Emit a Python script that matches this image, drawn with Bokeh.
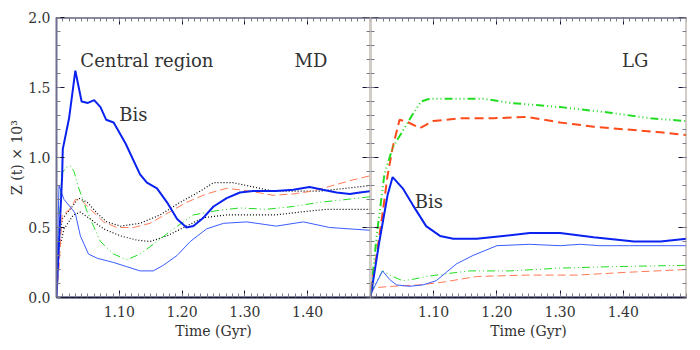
import numpy as np
from bokeh.plotting import figure
from bokeh.models import (LinearAxis, FixedTicker, Label, PrintfTickFormatter, Range1d,
                          CustomLabelingPolicy)
from bokeh.layouts import row
from bokeh.embed import file_html
from bokeh.resources import INLINE

# ---------------- data ----------------
x_ticks = [1.1, 1.2, 1.3, 1.4]
y_ticks = [0.0, 0.5, 1.0, 1.5, 2.0]

# MD panel (Central region)
md_bis_x = [1.000, 1.009, 1.010, 1.020, 1.030, 1.040, 1.050, 1.060, 1.070, 1.079, 1.091, 1.110, 1.133, 1.144,
            1.160, 1.176, 1.192, 1.207, 1.218, 1.234, 1.250, 1.271, 1.292, 1.313, 1.334, 1.349, 1.377, 1.403,
            1.424, 1.446, 1.467, 1.483, 1.500]
md_bis_y = [0.00, 0.87, 1.06, 1.28, 1.62, 1.40, 1.39, 1.41, 1.36, 1.27, 1.25, 1.10, 0.88, 0.82,
            0.78, 0.68, 0.56, 0.50, 0.51, 0.57, 0.65, 0.71, 0.75, 0.76, 0.76, 0.76, 0.77, 0.79,
            0.77, 0.75, 0.74, 0.75, 0.76]

md_thin_x = [1.000, 1.004, 1.012, 1.025, 1.030, 1.038, 1.051, 1.065, 1.091, 1.112, 1.133, 1.154, 1.170,
             1.192, 1.213, 1.239, 1.266, 1.303, 1.350, 1.393, 1.435, 1.500]
md_thin_y = [0.05, 0.80, 0.70, 0.63, 0.60, 0.44, 0.31, 0.28, 0.25, 0.22, 0.19, 0.19, 0.23,
             0.30, 0.40, 0.49, 0.53, 0.54, 0.51, 0.54, 0.50, 0.48]

md_green_x = [1.000, 1.008, 1.015, 1.022, 1.028, 1.034, 1.049, 1.070, 1.091, 1.112, 1.133, 1.160, 1.186,
              1.218, 1.255, 1.292, 1.334, 1.377, 1.419, 1.461, 1.500]
md_green_y = [0.05, 0.88, 0.93, 0.94, 0.90, 0.80, 0.61, 0.40, 0.31, 0.27, 0.31, 0.40, 0.49,
              0.59, 0.62, 0.64, 0.63, 0.65, 0.68, 0.70, 0.72]

md_orange_x = [1.000, 1.004, 1.009, 1.022, 1.030, 1.041, 1.054, 1.075, 1.096, 1.123, 1.149, 1.176, 1.207,
               1.239, 1.271, 1.308, 1.345, 1.377, 1.408, 1.440, 1.472, 1.500]
md_orange_y = [0.02, 0.21, 0.59, 0.63, 0.70, 0.69, 0.63, 0.54, 0.50, 0.50, 0.53, 0.60, 0.68,
               0.74, 0.78, 0.76, 0.73, 0.74, 0.76, 0.80, 0.84, 0.87]

md_dot1_x = [1.002, 1.009, 1.025, 1.035, 1.049, 1.065, 1.080, 1.102, 1.133, 1.165, 1.197, 1.229, 1.250,
             1.281, 1.313, 1.345, 1.377, 1.419, 1.461, 1.500]
md_dot1_y = [0.35, 0.56, 0.65, 0.71, 0.68, 0.60, 0.54, 0.51, 0.53, 0.59, 0.68, 0.76, 0.82,
             0.82, 0.79, 0.76, 0.76, 0.76, 0.78, 0.80]

md_dot2_x = [1.002, 1.012, 1.027, 1.038, 1.054, 1.075, 1.102, 1.128, 1.149, 1.176, 1.207, 1.234, 1.271,
             1.313, 1.350, 1.387, 1.430, 1.500]
md_dot2_y = [0.30, 0.49, 0.59, 0.61, 0.56, 0.49, 0.44, 0.41, 0.40, 0.44, 0.51, 0.57, 0.59,
             0.59, 0.59, 0.61, 0.63, 0.63]

# LG panel
lg_bis_x = [1.000, 1.014, 1.027, 1.035, 1.051, 1.067, 1.088, 1.110, 1.131, 1.168, 1.210, 1.252, 1.300,
            1.353, 1.417, 1.459, 1.500]
lg_bis_y = [0.00, 0.40, 0.73, 0.86, 0.78, 0.66, 0.51, 0.44, 0.42, 0.42, 0.44, 0.46, 0.46,
            0.43, 0.40, 0.40, 0.42]

lg_thin_x = [1.000, 1.019, 1.030, 1.041, 1.062, 1.083, 1.104, 1.120, 1.136, 1.162, 1.200, 1.252, 1.300,
             1.332, 1.363, 1.410, 1.500]
lg_thin_y = [0.02, 0.19, 0.13, 0.09, 0.08, 0.09, 0.12, 0.18, 0.24, 0.30, 0.37, 0.38, 0.37,
             0.38, 0.37, 0.37, 0.37]

lg_green_hi_x = [1.000, 1.010, 1.022, 1.035, 1.051, 1.067, 1.080, 1.094, 1.136, 1.178, 1.221, 1.300,
                 1.379, 1.443, 1.500]
lg_green_hi_y = [0.00, 0.45, 0.88, 1.07, 1.19, 1.31, 1.40, 1.42, 1.42, 1.42, 1.39, 1.36,
                 1.32, 1.28, 1.26]

lg_orange_hi_x = [1.000, 1.009, 1.020, 1.027, 1.035, 1.046, 1.060, 1.078, 1.099, 1.141, 1.194, 1.247,
                  1.300, 1.353, 1.406, 1.459, 1.500]
lg_orange_hi_y = [0.05, 0.28, 0.63, 0.87, 1.07, 1.27, 1.25, 1.21, 1.26, 1.28, 1.28, 1.29,
                  1.25, 1.22, 1.20, 1.18, 1.16]

lg_green_lo_x = [1.000, 1.019, 1.035, 1.051, 1.067, 1.088, 1.120, 1.157, 1.221, 1.300, 1.379, 1.500]
lg_green_lo_y = [0.03, 0.19, 0.15, 0.12, 0.13, 0.15, 0.17, 0.19, 0.19, 0.21, 0.22, 0.23]

lg_orange_lo_x = [1.000, 1.006, 1.035, 1.078, 1.115, 1.168, 1.247, 1.327, 1.406, 1.500]
lg_orange_lo_y = [0.02, 0.07, 0.08, 0.09, 0.11, 0.15, 0.16, 0.16, 0.18, 0.20]

# ---------------- styling ----------------
FONT = "DejaVu Serif"
TXT = "#333333"
DARK = "#14143a"
TAN = "#a59a8e"
BLUE_THICK = "#0a22f0"
BLUE_THIN = "#3a5cff"
GREEN = "#22dd22"
ORANGE = "#ff4a1a"
ORANGE_LIGHT = "#ff7a55"

X_LO, X_HI = 1.0, 1.5
Y_LO, Y_HI = 0.0, 2.0
x_minor = list(np.round(np.arange(X_LO, X_HI + 1e-4, 0.01), 3))
y_minor = list(np.round(np.arange(Y_LO, Y_HI + 1e-4, 0.1), 3))


def style_axis(ax, line_color, labels, fmt, horizontal):
    ax.axis_line_color = line_color
    ax.axis_line_width = 2
    ax.major_tick_in = 7 if horizontal else 8
    ax.major_tick_out = 0
    ax.minor_tick_in = 4
    ax.minor_tick_out = 0
    ax.major_tick_line_color = DARK
    ax.minor_tick_line_color = "#7a7a8a"
    ax.formatter = PrintfTickFormatter(format=fmt)
    if labels:
        ax.major_label_text_font = FONT
        ax.major_label_text_font_size = "14px"
        ax.major_label_text_color = TXT
        ax.major_label_standoff = 8 if horizontal else 6
    else:
        ax.major_label_policy = CustomLabelingPolicy(code="return []")
        ax.major_label_text_font_size = "1px"
        ax.major_label_standoff = 0


def make_fig(frame_w, bl, br, left_labels):
    p = figure(frame_width=frame_w, frame_height=280,
               x_range=Range1d(X_LO, X_HI), y_range=Range1d(Y_LO, Y_HI),
               x_axis_type=None, y_axis_type=None,
               output_backend="svg", toolbar_location=None,
               min_border_left=bl, min_border_right=br,
               min_border_top=17, min_border_bottom=50)
    p.outline_line_color = None
    p.background_fill_color = "white"
    p.border_fill_color = "white"

    xt = FixedTicker(ticks=x_ticks, minor_ticks=x_minor)
    yt = FixedTicker(ticks=y_ticks, minor_ticks=y_minor)

    below = LinearAxis(ticker=xt)
    style_axis(below, DARK, True, "%.2f", True)
    below.axis_label = "Time (Gyr)"
    below.axis_label_text_font = FONT
    below.axis_label_text_font_size = "14px"
    below.axis_label_text_font_style = "normal"
    below.axis_label_text_color = TXT
    below.axis_label_standoff = 3
    p.add_layout(below, "below")

    above = LinearAxis(ticker=xt, fixed_location=Y_HI)
    style_axis(above, DARK, False, "%.2f", True)
    p.add_layout(above, "above")

    if left_labels:
        left = LinearAxis(ticker=yt)
        style_axis(left, "#6e6e90", True, "%.1f", False)
        left.axis_label = "Z (t) × 10³"
        left.axis_label_text_font = FONT
        left.axis_label_text_font_size = "14px"
        left.axis_label_text_font_style = "normal"
        left.axis_label_text_color = TXT
        left.axis_label_standoff = 0
    else:
        left = LinearAxis(ticker=yt, fixed_location=X_LO)
        style_axis(left, TAN, False, "%.1f", False)
    p.add_layout(left, "left")

    right = LinearAxis(ticker=yt, fixed_location=X_HI)
    style_axis(right, TAN, False, "%.1f", False)
    p.add_layout(right, "right")
    return p


def add_label(p, x, y, text):
    p.add_layout(Label(x=x, y=y, text=text, text_font=FONT, text_font_size="18px",
                       text_color=TXT, text_baseline="alphabetic", text_align="left"))


# ---------------- left panel (MD) ----------------
p1 = make_fig(314, 56, 0, True)
p1.line(md_dot1_x, md_dot1_y, line_color="black", line_width=1.2, line_dash="1 2")
p1.line(md_dot2_x, md_dot2_y, line_color="black", line_width=1.2, line_dash="1 2")
p1.line(md_orange_x, md_orange_y, line_color=ORANGE_LIGHT, line_width=1, line_dash="8 4")
p1.line(md_green_x, md_green_y, line_color=GREEN, line_width=1, line_dash="8 3 1 3 1 3")
p1.line(md_thin_x, md_thin_y, line_color=BLUE_THIN, line_width=1)
p1.line(md_bis_x, md_bis_y, line_color=BLUE_THICK, line_width=2)
add_label(p1, 1.038, 1.69, "Central region")
add_label(p1, 1.379, 1.69, "MD")
add_label(p1, 1.100, 1.31, "Bis")

# ---------------- right panel (LG) ----------------
p2 = make_fig(316, 0, 8, False)
p2.line(lg_orange_lo_x, lg_orange_lo_y, line_color=ORANGE_LIGHT, line_width=1, line_dash="8 4")
p2.line(lg_green_lo_x, lg_green_lo_y, line_color=GREEN, line_width=1, line_dash="8 3 1 3 1 3")
p2.line(lg_thin_x, lg_thin_y, line_color=BLUE_THIN, line_width=1)
p2.line(lg_orange_hi_x, lg_orange_hi_y, line_color=ORANGE, line_width=2, line_dash="9 5")
p2.line(lg_green_hi_x, lg_green_hi_y, line_color=GREEN, line_width=2, line_dash="8 3 1 3 1 3 1 3")
p2.line(lg_bis_x, lg_bis_y, line_color=BLUE_THICK, line_width=2)
add_label(p2, 1.398, 1.69, "LG")
add_label(p2, 1.070, 0.686, "Bis")

layout = row(p1, p2)
open("out.html", "w").write(file_html(layout, INLINE))
